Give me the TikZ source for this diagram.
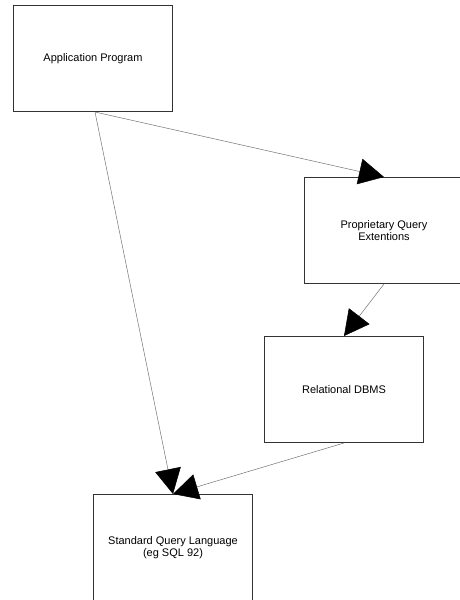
\documentclass[tikz,border=0pt]{standalone}
\usepackage{fontspec}
\setmainfont{Liberation Sans}
\usetikzlibrary{arrows.meta}
\begin{document}
\begin{tikzpicture}[x=1pt,y=-1pt,
  box/.style={draw=black!80,line width=1pt,minimum width=159pt,minimum height=106pt,
    inner sep=0pt,anchor=north west,align=center,
    font=\fontsize{11}{12}\selectfont},
  link/.style={draw=black!55,line width=0.5pt,
    -{Triangle[length=25pt,width=26pt,color=black]}}]
  \useasboundingbox (0,0) rectangle (460,600);
  \clip (0,0) rectangle (460,599.4);

  % components
  \node[box] (app)  at (13,5)    {Application Program};
  \node[box] (prop) at (304,177) {Proprietary Query\\Extentions};
  \node[box] (rdb)  at (264,336) {Relational DBMS};
  \node[box] (sql)  at (93,494)  {Standard Query Language\\(eg SQL 92)};

  % dependencies
  \draw[link] ([xshift=2pt]app.south) -- (prop.north);
  \draw[link] ([xshift=2pt]app.south) -- (sql.north);
  \draw[link] (prop.south) -- (rdb.north);
  \draw[link] (rdb.south) -- (sql.north);
\end{tikzpicture}
\end{document}
